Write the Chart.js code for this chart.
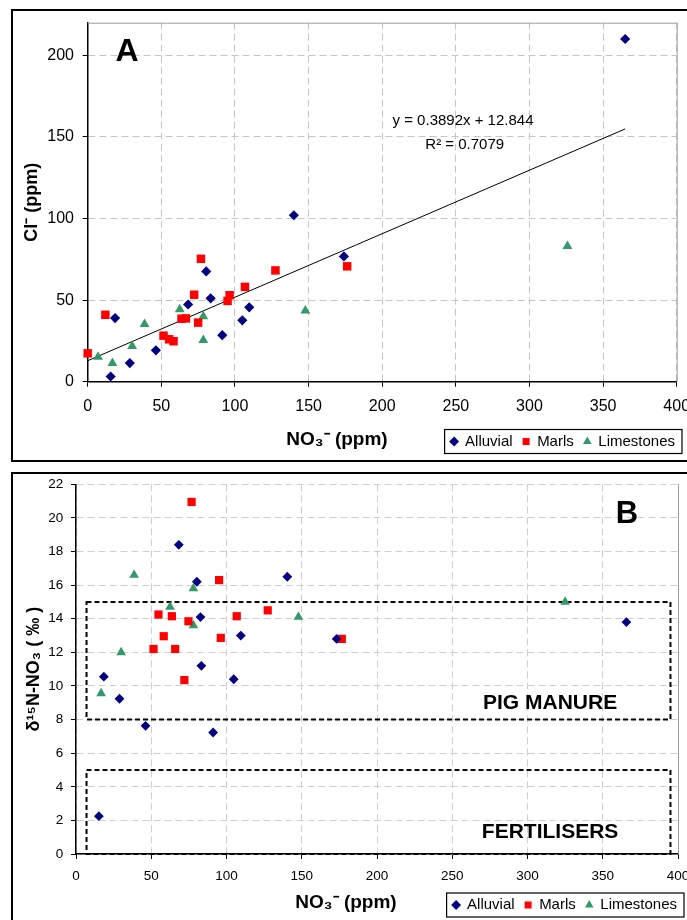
<!DOCTYPE html>
<html><head><meta charset="utf-8">
<script src="https://cdn.jsdelivr.net/npm/chart.js@4.4.0/dist/chart.umd.min.js"></script>
<style>
html,body{margin:0;padding:0;background:#fff;overflow:hidden;width:687px;height:920px;position:relative}
.panel{position:absolute;box-sizing:border-box;border:2px solid #000;}
#pa{left:11px;top:9px;width:720px;height:453px}
#pb{left:11px;top:472px;width:720px;height:470px}
canvas{position:absolute}
#ca{left:12px;top:10px;width:720px;height:452px}
#cb{left:12px;top:474px;width:720px;height:446px}
</style></head>
<body>
<div class="panel" id="pa"></div><div class="panel" id="pb"></div>
<canvas id="ca" width="720" height="452"></canvas>
<canvas id="cb" width="720" height="446"></canvas>
<script>
// ---------- Panel A : Cl- vs NO3- ----------
const A_ALLUVIAL_NO3 = [15.6, 18.6, 28.6, 46.3, 68.2, 80.5, 83.5, 91.4, 105, 109.7, 140, 174, 365];
const A_ALLUVIAL_CL  = [3.2, 39, 11.4, 19.2, 47.3, 67.6, 51.1, 28.5, 37.6, 45.6, 102, 76.8, 210];
const A_MARLS_NO3 = [0, 12, 51.5, 55.3, 58.3, 63.7, 66.7, 72.3, 75, 76.9, 95, 96.4, 106.8, 127.5, 176.2];
const A_MARLS_CL  = [17.4, 41, 28.2, 26, 24.8, 38.6, 38.8, 53.3, 36.2, 75.3, 49.5, 53, 58.1, 68.2, 70.7];
const A_LIME_NO3 = [7, 16.8, 30.2, 38.6, 62.5, 78.5, 78.5, 147.8, 325.8];
const A_LIME_CL  = [15.2, 11.4, 21.8, 35.2, 44.3, 40, 25.5, 43.5, 83];
const A_X_TICKS = [0, 50, 100, 150, 200, 250, 300, 350, 400];
const A_Y_TICKS = [0, 50, 100, 150, 200];
// trend line read from the printed equation
const TREND_SLOPE = 0.3892;
const TREND_INTERCEPT = 12.844;
const TREND_X = [0, 365];
const TREND_EQ = 'y = 0.3892x + 12.844';
const TREND_R2 = 'R² = 0.7079';

// ---------- Panel B : d15N vs NO3- ----------
const B_ALLUVIAL_NO3 = [15.2, 18.5, 28.9, 46.2, 68.3, 80.3, 82.7, 83.3, 91.1, 104.8, 109.5, 140.4, 173.2, 365.7];
const B_ALLUVIAL_D15N = [2.25, 10.55, 9.24, 7.63, 18.4, 16.2, 14.1, 11.2, 7.23, 10.4, 13.0, 16.5, 12.8, 13.8];
const B_MARLS_NO3 = [51.5, 54.8, 58.3, 63.7, 65.9, 72, 74.7, 76.8, 95.1, 96.2, 106.8, 127.4, 176.6];
const B_MARLS_D15N = [12.2, 14.25, 12.96, 14.15, 12.2, 10.35, 13.85, 20.95, 16.3, 12.86, 14.15, 14.5, 12.8];
const B_LIME_NO3 = [16.7, 30, 38.6, 62.5, 78, 78, 147.8, 325];
const B_LIME_D15N = [9.56, 12.0, 16.6, 14.7, 15.8, 13.6, 14.1, 15.0];
const B_X_TICKS = [0, 50, 100, 150, 200, 250, 300, 350, 400];
const B_Y_TICKS = [0, 2, 4, 6, 8, 10, 12, 14, 16, 18, 20, 22];
// source fields (dashed boxes)
const SOURCE_NO3_RANGE = [7, 395];
const PIG_MANURE_RANGE = [8, 15];
const FERTILISER_RANGE = [0, 5];
const SOURCE_LABELS = ['PIG MANURE', 'FERTILISERS'];
const SOURCE_LABEL_POS = [[315, 9.0], [315, 1.3]];

const SERIES = ['Alluvial', 'Marls', 'Limestones'];
const COLORS = ['#000080', '#FF0000', '#339966'];
const STYLES = ['rectRot', 'rect', 'triangle'];

const FONT = "'Liberation Sans', Arial, sans-serif";
Chart.defaults.font.family = FONT;
Chart.defaults.color = '#000';

const pts = (xs, ys) => xs.map((x, i) => ({x: x, y: ys[i]}));

function seriesSets(list, radii) {
  return list.map((d, i) => ({
    label: SERIES[i], data: d, pointStyle: STYLES[i], pointRadius: radii[i], pointHoverRadius: radii[i],
    backgroundColor: COLORS[i], borderColor: COLORS[i], borderWidth: 0, clip: false
  }));
}

function legendPlugin(itemRight, centerY) {
  return {
    id: 'legendPlace',
    afterLayout(chart) {
      const lg = chart.legend; if (!lg) return;
      const pad = lg.options.labels.padding;
      const fs = lg.options.labels.font.size;
      const dx = (itemRight + pad) - lg.right;
      const dy = (centerY - pad - fs / 2) - lg.top;
      lg.left += dx; lg.right += dx; lg.top += dy; lg.bottom += dy;
    },
    afterDraw(chart) {
      const hb = chart.legend.legendHitBoxes; if (!hb || !hb.length) return;
      let l = Infinity, r = -Infinity, t = Infinity, b = -Infinity;
      hb.forEach(h => { l = Math.min(l, h.left); r = Math.max(r, h.left + h.width); t = Math.min(t, h.top); b = Math.max(b, h.top + h.height); });
      const ctx = chart.ctx; ctx.save();
      ctx.strokeStyle = '#000'; ctx.lineWidth = 1.2;
      ctx.strokeRect(l - 6, t - 4.5, r - l + 13, b - t + 9);
      ctx.restore();
    }
  };
}

function textPlugin(items) {
  return {
    id: 'texts',
    afterDraw(chart) {
      const ctx = chart.ctx; ctx.save();
      ctx.fillStyle = '#000'; ctx.textAlign = 'center'; ctx.textBaseline = 'middle';
      items.forEach(it => {
        ctx.font = it.font;
        let x = it.x, y = it.y;
        if (it.data) { x = chart.scales.x.getPixelForValue(it.x); y = chart.scales.y.getPixelForValue(it.y); }
        ctx.fillText(it.text, x, y);
      });
      ctx.restore();
    }
  };
}

function framePlugin(top) {
  return {
    id: 'frame',
    beforeDatasetsDraw(chart) {
      const a = chart.chartArea, ctx = chart.ctx; ctx.save();
      ctx.strokeStyle = '#9a9a9a'; ctx.lineWidth = 1;
      ctx.beginPath();
      if (top) { ctx.moveTo(a.left, a.top + 0.5); ctx.lineTo(a.right + 0.5, a.top + 0.5); }
      ctx.moveTo(a.right + 0.5, a.top); ctx.lineTo(a.right + 0.5, a.bottom);
      ctx.stroke(); ctx.restore();
    }
  };
}

function axisCfg(o) {
  return {
    type: 'linear', min: o.min, max: o.max,
    ticks: {stepSize: o.step, color: '#000', font: {family: FONT, size: o.fs}, padding: o.pad, maxRotation: 0, autoSkip: false},
    afterBuildTicks: s => { s.ticks = o.ticks.map(v => ({value: v})); },
    grid: {color: o.grid, lineWidth: 1, tickColor: '#000', tickLength: 5, tickWidth: 1, tickBorderDash: []},
    border: {display: true, color: '#000', width: 1.5, dash: [7, 4]},
    title: o.title ? {display: true, text: o.title, color: '#000', font: {family: FONT, size: 18, weight: 'bold'}, padding: {top: o.titlePad, bottom: 0}} : {display: false},
    afterFit: s => {
      o.fit(s);
      s.paddingTop = 0; s.paddingBottom = 0; s.paddingLeft = 0; s.paddingRight = 0;
    }
  };
}

// ---------------- Chart A ----------------
const A_H = 452, A_BOTTOM = 371.7;
new Chart(document.getElementById('ca'), {
  type: 'scatter',
  data: {
    datasets: seriesSets([pts(A_ALLUVIAL_NO3, A_ALLUVIAL_CL), pts(A_MARLS_NO3, A_MARLS_CL), pts(A_LIME_NO3, A_LIME_CL)], [5.1, 6, 5.7]).concat([{
      label: 'Linear trend', data: TREND_X.map(x => ({x: x, y: TREND_SLOPE * x + TREND_INTERCEPT})),
      showLine: true, pointRadius: 0, borderColor: '#000', borderWidth: 1, clip: false
    }])
  },
  options: {
    responsive: false, animation: false, devicePixelRatio: 1,
    layout: {padding: {left: 0, top: 12.7, right: 55.3, bottom: 0}},
    plugins: {
      legend: {position: 'bottom', align: 'end',
        labels: {usePointStyle: true, boxWidth: 7, boxHeight: 7, padding: 10, color: '#000', font: {family: FONT, size: 15},
          filter: it => it.text !== 'Linear trend'}},
      tooltip: {enabled: false}
    },
    scales: {
      x: axisCfg({min: 0, max: 400, step: 50, ticks: A_X_TICKS, fs: 16, pad: 10, grid: '#c6c6c6',
        fit: s => { const lh = s.chart.legend ? s.chart.legend.height : 0; s.height = A_H - A_BOTTOM - lh; }}),
      y: axisCfg({min: 0, max: 220, step: 50, ticks: A_Y_TICKS, fs: 16, pad: 8.7, grid: '#c6c6c6',
        title: 'Cl⁻ (ppm)', titlePad: 9.2, fit: s => { s.width = 75.7; }})
    }
  },
  plugins: [framePlugin(true), legendPlugin(663, 431.5), textPlugin([
    {text: 'A', x: 115, y: 42, font: `bold 32px ${FONT}`},
    {text: TREND_EQ, x: 451, y: 111, font: `15px ${FONT}`},
    {text: TREND_R2, x: 452.7, y: 135, font: `15px ${FONT}`},
    {text: 'NO₃⁻ (ppm)', x: 325, y: 430, font: `bold 19px ${FONT}`}
  ])]
});

// ---------------- Chart B ----------------
const B_H = 446, B_BOTTOM = 380;
const boxPlugin = {
  id: 'sourceBoxes',
  beforeDatasetsDraw(chart) {
    const xs = chart.scales.x, ys = chart.scales.y, ctx = chart.ctx;
    ctx.save(); ctx.strokeStyle = '#000'; ctx.lineWidth = 2; ctx.setLineDash([5, 3]);
    [PIG_MANURE_RANGE, FERTILISER_RANGE].forEach(r => {
      const x1 = xs.getPixelForValue(SOURCE_NO3_RANGE[0]), x2 = xs.getPixelForValue(SOURCE_NO3_RANGE[1]);
      const y1 = ys.getPixelForValue(r[1]), y2 = ys.getPixelForValue(r[0]);
      ctx.strokeRect(x1, y1, x2 - x1, y2 - y1);
    });
    ctx.restore();
  }
};
new Chart(document.getElementById('cb'), {
  type: 'scatter',
  data: {
    datasets: seriesSets([pts(B_ALLUVIAL_NO3, B_ALLUVIAL_D15N), pts(B_MARLS_NO3, B_MARLS_D15N), pts(B_LIME_NO3, B_LIME_D15N)], [4.9, 5.8, 5.6])
  },
  options: {
    responsive: false, animation: false, devicePixelRatio: 1,
    layout: {padding: {left: 0, top: 10.3, right: 54, bottom: 0}},
    plugins: {
      legend: {position: 'bottom', align: 'end',
        labels: {usePointStyle: true, boxWidth: 7, boxHeight: 7, padding: 10, color: '#000', font: {family: FONT, size: 15}}},
      tooltip: {enabled: false}
    },
    scales: {
      x: axisCfg({min: 0, max: 400, step: 50, ticks: B_X_TICKS, fs: 13.5, pad: 9.6, grid: '#cfcfcf',
        fit: s => { const lh = s.chart.legend ? s.chart.legend.height : 0; s.height = B_H - B_BOTTOM - lh; }}),
      y: axisCfg({min: 0, max: 22, step: 2, ticks: B_Y_TICKS, fs: 13.5, pad: 7.7, grid: '#cfcfcf',
        title: 'δ¹⁵N-NO₃ ( ‰ )', titlePad: 11.2, fit: s => { s.width = 64; }})
    }
  },
  plugins: [framePlugin(false), boxPlugin, legendPlugin(665, 431), textPlugin([
    {text: 'B', x: 615, y: 40, font: `bold 31px ${FONT}`},
    {text: SOURCE_LABELS[0], x: SOURCE_LABEL_POS[0][0], y: SOURCE_LABEL_POS[0][1], data: true, font: `bold 21px ${FONT}`},
    {text: SOURCE_LABELS[1], x: SOURCE_LABEL_POS[1][0], y: SOURCE_LABEL_POS[1][1], data: true, font: `bold 21px ${FONT}`},
    {text: 'NO₃⁻ (ppm)', x: 334, y: 429, font: `bold 19px ${FONT}`}
  ])]
});
</script>
</body></html>
